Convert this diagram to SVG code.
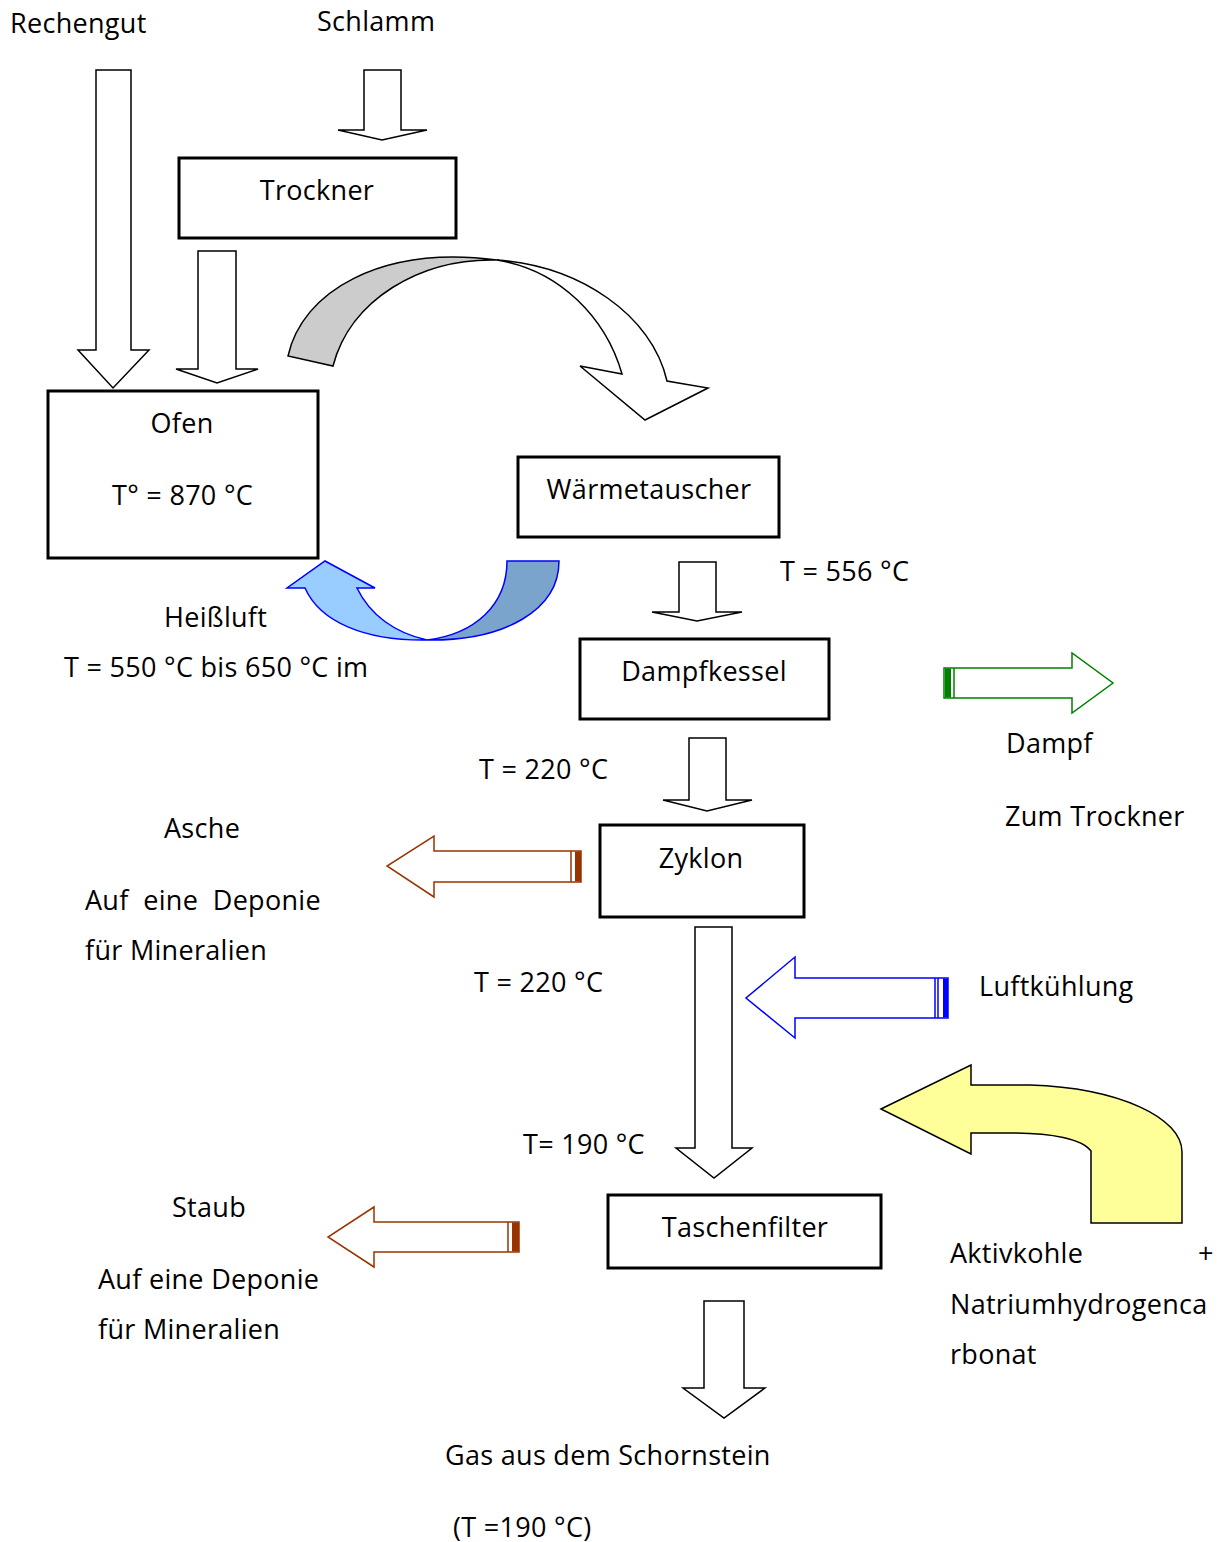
<svg xmlns="http://www.w3.org/2000/svg" width="1222" height="1542" viewBox="0 0 1222 1542">
<style>
text{font-family:"Open Sans","Noto Sans",sans-serif;font-size:27px;letter-spacing:0.3px;fill:#000}
.box{fill:#fff;stroke:#000;stroke-width:3}
.wa{fill:#fff;stroke:#000;stroke-width:1.5;stroke-linejoin:miter}
</style>
<rect width="1222" height="1542" fill="#fff"/>
<g id="connectors">
  <path class="wa" d="M96,70 H131 V350 H149 L113,388 L78,350 H96 Z"/>
  <path class="wa" d="M364,70 H401 V130 H427 L382,140 L338,130 H364 Z"/>
  <path class="wa" d="M198,251 H236 V369 H258 L217,383 L176,369 H198 Z"/>
  <path class="wa" d="M497,260 C580,266 652,315 667,381 L708,388 L645,420 L580,366 L622,374 C606,318 560,270 497,260 Z"/>
  <path fill="#cccccc" stroke="#000" stroke-width="1.5" d="M288,356 C302,292 380,245 497,260 C420,258 350,300 333,366 Z"/>
  <path class="wa" d="M679,562 H716 V612 H742 L697,621 L652,612 H679 Z"/>
  <path fill="#7ba4cc" stroke="#0000ff" stroke-width="1.5" d="M507,561 L559,561 C559,610 505,641 427,640 C475,634 507,605 507,561 Z"/>
  <path fill="#99ccff" stroke="#0000ff" stroke-width="1.5" d="M427,640 C365,641 320,622 305,588 L287,588 L325,561 L375,588 L357,588 C370,615 395,633 427,640 Z"/>
  <g id="dampf-arrow" stroke="#008000" fill="none">
    <path fill="#fff" stroke-width="1.5" d="M944,668 H1072 V653 L1113,683 L1072,713 V698 H944 Z"/>
    <rect x="945" y="668.5" width="6" height="29" fill="#008000" stroke="none"/>
    <line x1="954" y1="668" x2="954" y2="698" stroke-width="1.5"/>
  </g>
  <path class="wa" d="M689,738 H726 V800 H752 L707,811 L663,800 H689 Z"/>
  <g id="asche-arrow" stroke="#993300" fill="none">
    <path fill="#fff" stroke-width="1.5" d="M581,851 H434 V836 L387,866 L434,897 V882 H581 Z"/>
    <rect x="575" y="851.5" width="6" height="30" fill="#993300" stroke="none"/>
    <line x1="571" y1="851" x2="571" y2="882" stroke-width="1.5"/>
  </g>
  <path class="wa" d="M695,927 H732 V1148 H752 L714,1178 L676,1148 H695 Z"/>
  <g id="luft-arrow" stroke="#0000ff" fill="none">
    <path fill="#fff" stroke-width="1.5" d="M948,978 H795 V957 L746,998 L795,1038 V1018 H948 Z"/>
    <rect x="943" y="978.5" width="5" height="39" fill="#0000ff" stroke="none"/>
    <line x1="935" y1="978" x2="935" y2="1018" stroke-width="1.5"/>
    <line x1="938" y1="978" x2="938" y2="1018" stroke-width="1.5"/>
  </g>
  <path fill="#ffff99" stroke="#000" stroke-width="1.5" d="M881,1109 L971,1065 L971,1085 L1030,1085 C1120,1088 1182,1118 1182,1152 L1182,1223 L1091,1223 L1091,1151 C1082,1139 1052,1133 1012,1133 L971,1133 L971,1154 Z"/>
  <g id="staub-arrow" stroke="#993300" fill="none">
    <path fill="#fff" stroke-width="1.5" d="M519,1222 H374 V1207 L328,1237 L374,1267 V1252 H519 Z"/>
    <rect x="512" y="1222.5" width="7" height="29" fill="#993300" stroke="none"/>
    <line x1="508" y1="1222" x2="508" y2="1252" stroke-width="1.5"/>
  </g>
  <path class="wa" d="M704,1301 H744 V1388 H765 L724,1418 L683,1388 H704 Z"/>
</g>
<g id="trockner"><rect class="box" x="179" y="158" width="277" height="80"/><text x="317" y="200" text-anchor="middle">Trockner</text></g>
<g id="ofen"><rect class="box" x="48" y="391" width="270" height="167"/><text x="182" y="433" text-anchor="middle">Ofen</text><text x="112" y="505">T° = 870 °C</text></g>
<g id="waermetauscher"><rect class="box" x="518" y="457" width="261" height="80"/><text x="649" y="499" text-anchor="middle">Wärmetauscher</text></g>
<g id="dampfkessel"><rect class="box" x="580" y="639" width="249" height="80"/><text x="704" y="681" text-anchor="middle">Dampfkessel</text></g>
<g id="zyklon"><rect class="box" x="600" y="825" width="204" height="92"/><text x="701" y="868" text-anchor="middle">Zyklon</text></g>
<g id="taschenfilter"><rect class="box" x="608" y="1195" width="273" height="73"/><text x="745" y="1237" text-anchor="middle">Taschenfilter</text></g>
<g id="labels">
  <text x="10" y="33">Rechengut</text>
  <text x="317" y="31">Schlamm</text>
  <text x="780" y="581">T = 556 °C</text>
  <text x="164" y="627">Heißluft</text>
  <text x="64" y="677">T = 550 °C bis 650 °C im</text>
  <text x="1006" y="753">Dampf</text>
  <text x="1005" y="826">Zum Trockner</text>
  <text x="479" y="779">T = 220 °C</text>
  <text x="164" y="838">Asche</text>
  <text x="85" y="910" xml:space="preserve">Auf  eine  Deponie</text>
  <text x="85" y="960">für Mineralien</text>
  <text x="474" y="992">T = 220 °C</text>
  <text x="979" y="996">Luftkühlung</text>
  <text x="523" y="1154">T= 190 °C</text>
  <text x="172" y="1217">Staub</text>
  <text x="98" y="1289">Auf eine Deponie</text>
  <text x="98" y="1339">für Mineralien</text>
  <text x="950" y="1263">Aktivkohle</text>
  <text x="1198" y="1263">+</text>
  <text x="950" y="1314">Natriumhydrogenca</text>
  <text x="950" y="1364">rbonat</text>
  <text x="445" y="1465">Gas aus dem Schornstein</text>
  <text x="453" y="1537">(T =190 °C)</text>
</g>
</svg>
